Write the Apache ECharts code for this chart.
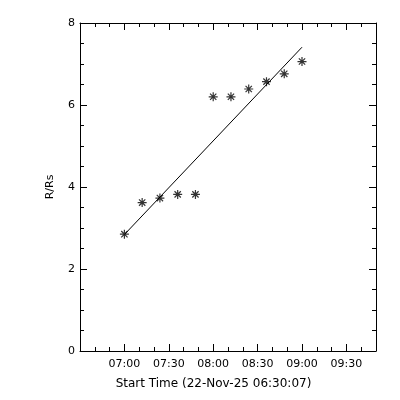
<!DOCTYPE html>
<html>
<head>
<meta charset="utf-8">
<script src="https://cdn.jsdelivr.net/npm/echarts@6/dist/echarts.min.js"></script>
<style>
  html, body { margin: 0; padding: 0; background: #fff; }
</style>
</head>
<body>
<div id="main" style="width: 400px;height:400px;"></div>
<script>
// start of the time axis is 06:30:07, x values are minutes after 06:30
var startLabel = '22-Nov-25 06:30:07'
var obsTimes = ['07:00', '07:12', '07:24', '07:36', '07:48', '08:00', '08:12', '08:24', '08:36', '08:48', '09:00']
var heights = [2.85, 3.62, 3.73, 3.82, 3.82, 6.20, 6.20, 6.39, 6.57, 6.76, 7.06]
var fitTimes = ['07:00', '09:00']
var fitHeights = [2.84, 7.41]
var yTicks = [0, 2, 4, 6, 8]

function toMin(t) {
  var p = t.split(':')
  return (parseInt(p[0]) - 6) * 60 + parseInt(p[1]) - 30
}
function toLabel(m) {
  var tot = 6 * 60 + 30 + m
  var h = Math.floor(tot / 60), mm = tot % 60
  return (h < 10 ? '0' : '') + h + ':' + (mm < 10 ? '0' : '') + mm
}

var font = 'DejaVu Sans'
var stars = obsTimes.map(function (t, i) { return [toMin(t), heights[i]] })
var fit = fitTimes.map(function (t, i) { return [toMin(t), fitHeights[i]] })

var chart = echarts.init(document.getElementById('main'))

function xAx(pos, interval, len, labels, line) {
  return {
    type: 'value', position: pos, min: 0, max: 200, interval: interval,
    axisLine: {show: line, onZero: false, lineStyle: {color: '#000', width: 1}},
    axisTick: {inside: true, length: len, lineStyle: {color: '#000'}},
    splitLine: {show: false},
    axisLabel: {
      show: labels, color: '#000', fontFamily: font, fontSize: 11, margin: 8,
      formatter: function (v) {
        if (v === 0 || v >= 200 || v % 30 !== 0) return ''
        return toLabel(v)
      }
    },
    name: labels ? 'Start Time (' + startLabel + ')' : '',
    nameLocation: 'middle', nameGap: 27,
    nameTextStyle: {color: '#000', fontFamily: font, fontSize: 12, padding: [0, 29, 0, 0]}
  }
}
function yAx(pos, labels) {
  return {
    type: 'value', position: pos, min: yTicks[0], max: yTicks[yTicks.length - 1], interval: 2,
    axisLine: {show: true, onZero: false, lineStyle: {color: '#000', width: 1}},
    axisTick: {inside: true, length: 7, lineStyle: {color: '#000'}},
    minorTick: {show: true, splitNumber: 4, length: 4, lineStyle: {color: '#000'}},
    splitLine: {show: false},
    axisLabel: {show: labels, color: '#000', fontFamily: font, fontSize: 11, margin: 5},
    name: labels ? 'R/Rs' : '',
    nameLocation: 'middle', nameGap: 24,
    nameTextStyle: {color: '#000', fontFamily: font, fontSize: 11}
  }
}

var option = {
  backgroundColor: '#fff',
  animation: false,
  grid: {left: 80, right: 24, top: 23, bottom: 49},
  xAxis: [
    xAx('bottom', 30, 7, true, true),
    xAx('bottom', 10, 4, false, false),
    xAx('top', 30, 7, false, true),
    xAx('top', 10, 4, false, false)
  ],
  yAxis: [yAx('left', true), yAx('right', false)],
  series: [
    {
      type: 'line', xAxisIndex: 0, yAxisIndex: 0,
      data: fit, showSymbol: false, symbol: 'none',
      lineStyle: {color: '#000', width: 1}
    },
    {
      type: 'scatter', xAxisIndex: 0, yAxisIndex: 0,
      data: stars,
      symbol: 'path://M0,-1L0,1M-1,0L1,0M-0.7,-0.7L0.7,0.7M-0.7,0.7L0.7,-0.7',
      symbolSize: 9,
      itemStyle: {color: 'none', borderColor: '#000', borderWidth: 1.2}
    }
  ]
}
chart.setOption(option)
</script>
</body>
</html>
